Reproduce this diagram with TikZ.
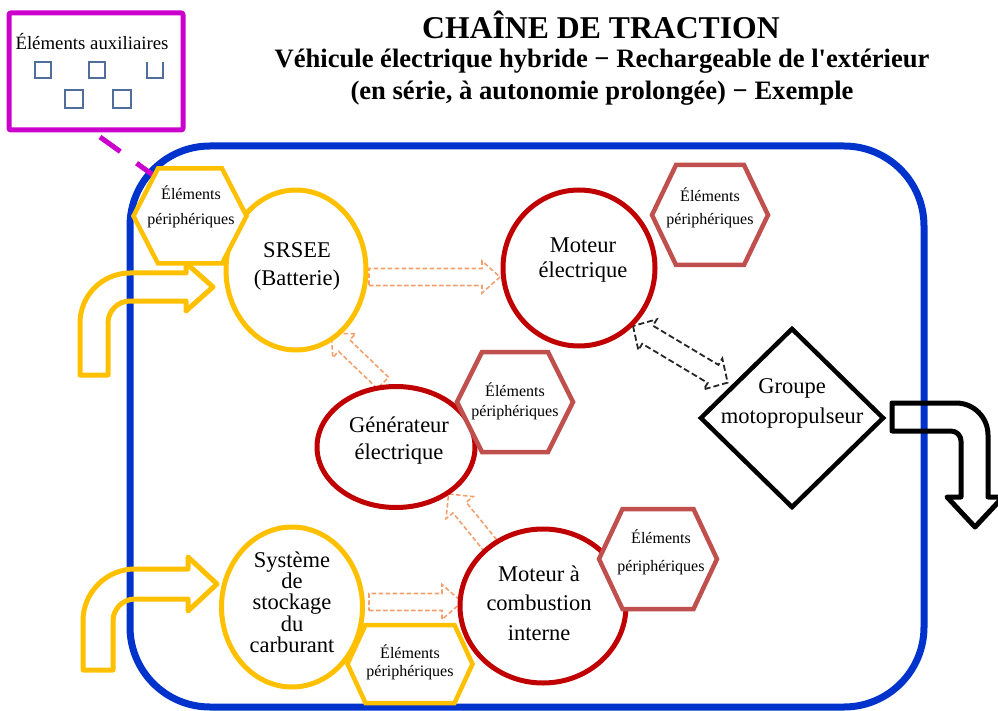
\documentclass[tikz,border=0pt]{standalone}
\usepackage{fontspec}
\setmainfont{Liberation Serif}
\usetikzlibrary{shapes.geometric}
\definecolor{cblue}{RGB}{0,51,204}
\definecolor{cyel}{RGB}{255,192,0}
\definecolor{cred}{RGB}{192,0,0}
\definecolor{chex}{RGB}{192,80,77}
\definecolor{cmag}{RGB}{204,0,204}
\definecolor{corg}{RGB}{244,160,110}
\definecolor{csq}{RGB}{79,110,155}
\tikzset{
  ellbox/.style={ellipse, draw, line width=5pt, fill=white, inner sep=0pt},
  yell/.style={ellbox, draw=cyel},
  rell/.style={ellbox, draw=cred},
  yhex/.style={draw=cyel, line width=4.5pt, fill=white},
  rhex/.style={draw=chex, line width=4.5pt, fill=white},
  body/.style={font=\fontsize{22.5}{25}\selectfont, align=center, inner sep=0pt},
  hextxt/.style={font=\fontsize{16}{18}\selectfont, inner sep=0pt},
  orgarrow/.style={draw=corg, line width=1.6pt, fill=white, dash pattern=on 4.5pt off 2.5pt},
  blkdarrow/.style={draw=black!85, line width=1.8pt, dash pattern=on 6pt off 3pt},
  bentyel/.style={draw=cyel, line width=5pt, line join=round},
  bentblk/.style={draw=black, line width=5pt, line join=round},
  sqbox/.style={draw=csq, line width=1.6pt},
}
% block arrow: style, x, y, angle, length, half shaft, half head, head length
\newcommand\blockarrow[8]{%
  \begin{scope}[shift={(#2,#3)},rotate=#4]
  \draw[#1] (0,#6) -- ({#5-#8},#6) -- ({#5-#8},#7) -- (#5,0) -- ({#5-#8},-#7) -- ({#5-#8},-#6) -- (0,-#6) -- cycle;
  \end{scope}}
\newcommand\dblockarrow[8]{%
  \begin{scope}[shift={(#2,#3)},rotate=#4]
  \draw[#1] (0,0) -- (#8,#7) -- (#8,#6) -- ({#5-#8},#6) -- ({#5-#8},#7) -- (#5,0) -- ({#5-#8},-#7) -- ({#5-#8},-#6) -- (#8,-#6) -- (#8,-#7) -- cycle;
  \end{scope}}
% hexagon: name, style, cx, cy, half width, half height, half top edge
\newcommand\hexa[7]{%
  \coordinate (#1) at (#3,#4);
  \draw[#2] ({#3-#5},#4) -- ({#3-#7},{#4-#6}) -- ({#3+#7},{#4-#6}) -- ({#3+#5},#4) -- ({#3+#7},{#4+#6}) -- ({#3-#7},{#4+#6}) -- cycle;}
\begin{document}
\begin{tikzpicture}[x=1pt,y=-1pt]
\useasboundingbox (0,0) rectangle (998,711);
% title
\node[font=\bfseries\fontsize{31.7}{34}\selectfont, anchor=base, inner sep=0pt] (title) at (601,39) {CHAÎNE DE TRACTION};
\node[font=\bfseries\fontsize{26.6}{30}\selectfont, anchor=base, inner sep=0pt] (sub1) at (602,68) {Véhicule électrique hybride − Rechargeable de l\textquotesingle extérieur};
\node[font=\bfseries\fontsize{26.6}{30}\selectfont, anchor=base, inner sep=0pt] (sub2) at (602,100) {(en série, à autonomie prolongée) − Exemple};
% frame
\draw[cblue, line width=7pt, rounded corners=80pt] (130,146) rectangle (924,707);
% auxiliary box
\node[draw=cmag, line width=5pt, minimum width=174pt, minimum height=117pt, rounded corners=2pt, inner sep=0pt] (aux) at (96,71.5) {};
\node[font=\fontsize{18.8}{20}\selectfont, inner sep=0pt] (auxtxt) at (92,42) {Éléments auxiliaires};
\draw[sqbox] (35,62) rectangle (51,78);
\draw[sqbox] (89,62) rectangle (105,78);
\draw[sqbox] (147,62) -- (147,78) -- (163,78) -- (163,62);
\draw[sqbox] (65,90) rectangle (83,108);
\draw[sqbox] (113,90) rectangle (131,108);
\coordinate (auxstart) at (100,137);
\coordinate (auxend) at (153,175);
\draw[cmag, line width=5pt, dash pattern=on 25pt off 20pt] (auxstart) -- (auxend);
% bent arrows
\draw[bentyel] (80,375) [rounded corners=50pt] -- (80,273) [sharp corners] -- (186,273) -- (186,263) -- (213,287) -- (186,311) -- (186,301) [rounded corners=22pt] -- (108,301) [sharp corners] -- (108,375) -- cycle;
\draw[bentyel] (83,670) [rounded corners=52pt] -- (83,569) [sharp corners] -- (188,569) -- (188,557) -- (217,584) -- (188,611) -- (188,599) [rounded corners=22pt] -- (113,599) [sharp corners] -- (113,670) -- cycle;
\draw[bentblk] (892,403) [rounded corners=32pt] -- (988,403) [sharp corners] -- (988,497) -- (1003,497) -- (975,527) -- (947,497) -- (961,497) [rounded corners=10pt] -- (961,431) [sharp corners] -- (892,431) -- cycle;
% energy flow arrows
\blockarrow{orgarrow}{369}{277}{0}{131}{8.5}{16}{18}
\blockarrow{orgarrow}{383}{383}{136.1}{71.4}{8}{16.5}{17.5}
\blockarrow{orgarrow}{490}{545}{129.1}{65.7}{8.5}{17.5}{17.5}
\blockarrow{orgarrow}{369}{602}{0}{93}{8.5}{17.5}{20}
\dblockarrow{blkdarrow}{633}{326}{-30.9}{110.3}{10.5}{18}{17}
% components
\node[yell, minimum width=140pt, minimum height=160pt] (srsee) at (296,270) {};
\node[rell, minimum width=152pt, minimum height=156pt] (moteur) at (579,268) {};
\node[rell, minimum width=158pt, minimum height=121pt] (gen) at (396,447) {};
\node[yell, minimum width=141pt, minimum height=160pt] (stock) at (292,607) {};
\node[rell, minimum width=166pt, minimum height=154pt] (mci) at (543,606) {};
\node[diamond, draw, line width=4.5pt, fill=white, minimum width=184pt, minimum height=180pt, inner sep=0pt] (gmp) at (792,418) {};
% peripheral elements
\hexa{h1}{yhex}{190}{216}{56.5}{47.5}{32}
\hexa{h2}{rhex}{710}{215}{58}{50}{34}
\hexa{h3}{rhex}{515}{402}{58}{50}{33}
\hexa{h4}{rhex}{658}{559}{59}{50}{35.5}
\hexa{h5}{yhex}{410}{664}{62.5}{39}{44.5}
\node[hextxt] (h1a) at (191,193) {Éléments};
\node[hextxt] (h1b) at (191,221) {périphériques};
\node[hextxt] (h2a) at (710,195) {Éléments};
\node[hextxt] (h2b) at (710,221) {périphériques};
\node[hextxt] (h3a) at (515,390) {Éléments};
\node[hextxt] (h3b) at (515,413) {périphériques};
\node[hextxt] (h4a) at (661,537) {Éléments};
\node[hextxt] (h4b) at (661,568) {périphériques};
\node[hextxt] (h5a) at (410,652) {Éléments};
\node[hextxt] (h5b) at (410,673) {périphériques};
% labels
\node[body, font=\fontsize{22.5}{28}\selectfont] (srseet) at (297,266) {SRSEE\\(Batterie)};
\node[body] (moteurt) at (583,260) {Moteur\\électrique};
\node[body, font=\fontsize{22.5}{27}\selectfont] (gent) at (399,441) {Générateur\\électrique};
\node[body, font=\fontsize{22.5}{21.3}\selectfont] (stockt) at (292,602) {Système\\de\\stockage\\du\\carburant};
\node[body, font=\fontsize{22.5}{29.5}\selectfont] (mcit) at (539,603) {Moteur à\\combustion\\interne};
\node[body, font=\fontsize{22.5}{30}\selectfont] (gmpt) at (792,403) {Groupe\\motopropulseur};
\end{tikzpicture}
\end{document}
